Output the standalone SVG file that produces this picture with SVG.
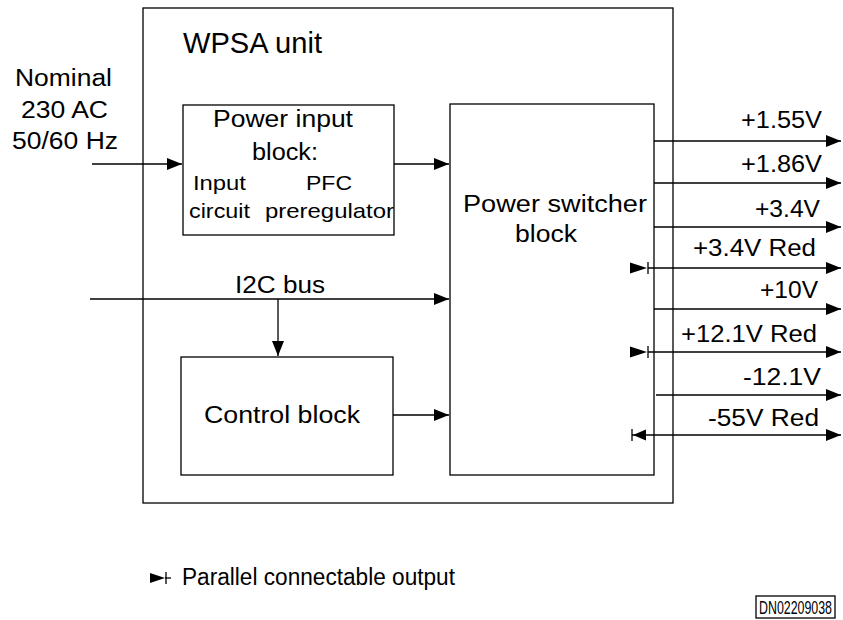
<svg xmlns="http://www.w3.org/2000/svg" width="843" height="620" viewBox="0 0 843 620">
<style>
text{font-family:"Liberation Sans",Arial,sans-serif;fill:#000}
.box{fill:#fff;stroke:#000;stroke-width:1.3}
.ln{fill:none;stroke:#000;stroke-width:1.3}
.t{font-size:23px}
.s{font-size:21px}
</style>
<defs>
<marker id="ah" markerUnits="userSpaceOnUse" markerWidth="15" markerHeight="12" refX="15" refY="6" orient="auto">
<path d="M0,0 L15,6 L0,12 z" fill="#000"/>
</marker>
</defs>
<rect width="843" height="620" fill="#fff"/>
<g id="wpsa-unit">
<rect class="box" x="143" y="8" width="530" height="495"/>
<text x="183" y="53" font-size="29" textLength="139" lengthAdjust="spacingAndGlyphs">WPSA unit</text>
</g>
<g id="nominal-input">
<text class="t" x="15" y="86" textLength="97" lengthAdjust="spacingAndGlyphs">Nominal</text>
<text class="t" x="21" y="118" textLength="87" lengthAdjust="spacingAndGlyphs">230 AC</text>
<text class="t" x="12" y="149" textLength="106" lengthAdjust="spacingAndGlyphs">50/60 Hz</text>
</g>
<g id="power-input-block">
<rect class="box" x="183" y="105" width="211" height="130"/>
<text class="t" x="213" y="127" textLength="140" lengthAdjust="spacingAndGlyphs">Power input</text>
<text class="t" x="252" y="160" textLength="66" lengthAdjust="spacingAndGlyphs">block:</text>
<text class="s" x="193" y="190" textLength="53" lengthAdjust="spacingAndGlyphs">Input</text>
<text class="s" x="306" y="190" textLength="46" lengthAdjust="spacingAndGlyphs">PFC</text>
<text class="s" x="189" y="218" textLength="61" lengthAdjust="spacingAndGlyphs">circuit</text>
<text class="s" x="265" y="218" textLength="129" lengthAdjust="spacingAndGlyphs">preregulator</text>
</g>
<g id="power-switcher-block">
<rect class="box" x="450" y="104" width="204" height="371"/>
<text class="t" x="463" y="212" textLength="184" lengthAdjust="spacingAndGlyphs">Power switcher</text>
<text class="t" x="515" y="242" textLength="62" lengthAdjust="spacingAndGlyphs">block</text>
</g>
<g id="control-block">
<rect class="box" x="181" y="357" width="212" height="118"/>
<text class="t" x="204" y="423" textLength="156" lengthAdjust="spacingAndGlyphs">Control block</text>
</g>
<g id="i2c-label">
<text class="t" x="235" y="293" textLength="90" lengthAdjust="spacingAndGlyphs">I2C bus</text>
</g>
<g id="connectors">
<line class="ln" x1="92" y1="164" x2="182" y2="164" marker-end="url(#ah)"/>
<line class="ln" x1="394" y1="164" x2="449" y2="164" marker-end="url(#ah)"/>
<line class="ln" x1="90" y1="299" x2="449" y2="299" marker-end="url(#ah)"/>
<line class="ln" x1="278" y1="299" x2="278" y2="356" marker-end="url(#ah)"/>
<line class="ln" x1="393" y1="415" x2="449" y2="415" marker-end="url(#ah)"/>
<line class="ln" x1="654" y1="141" x2="841" y2="141" marker-end="url(#ah)"/>
<line class="ln" x1="654" y1="183" x2="841" y2="183" marker-end="url(#ah)"/>
<line class="ln" x1="654" y1="227" x2="841" y2="227" marker-end="url(#ah)"/>
<line class="ln" x1="648" y1="268" x2="841" y2="268" marker-end="url(#ah)"/>
<line class="ln" x1="654" y1="309" x2="841" y2="309" marker-end="url(#ah)"/>
<line class="ln" x1="648" y1="352" x2="841" y2="352" marker-end="url(#ah)"/>
<line class="ln" x1="656" y1="395" x2="841" y2="395" marker-end="url(#ah)"/>
<line class="ln" x1="632" y1="435" x2="841" y2="435" marker-end="url(#ah)"/>
<path d="M630,262.5 L647,268 L630,273.5 z" fill="#000"/>
<line class="ln" x1="648" y1="262" x2="648" y2="274"/>
<path d="M630,346.5 L647,352 L630,357.5 z" fill="#000"/>
<line class="ln" x1="648" y1="346" x2="648" y2="358"/>
<path d="M633,435 L646,429.5 L646,440.5 z" fill="#000"/>
<line class="ln" x1="632" y1="429" x2="632" y2="441"/>
</g>
<g id="output-labels">
<text class="t" x="741" y="128" textLength="81" lengthAdjust="spacingAndGlyphs">+1.55V</text>
<text class="t" x="741" y="172" textLength="81" lengthAdjust="spacingAndGlyphs">+1.86V</text>
<text class="t" x="755" y="217" textLength="65" lengthAdjust="spacingAndGlyphs">+3.4V</text>
<text class="t" x="693" y="256" textLength="123" lengthAdjust="spacingAndGlyphs">+3.4V Red</text>
<text class="t" x="760" y="298" textLength="58" lengthAdjust="spacingAndGlyphs">+10V</text>
<text class="t" x="681" y="342" textLength="136" lengthAdjust="spacingAndGlyphs">+12.1V Red</text>
<text class="t" x="743" y="385" textLength="78" lengthAdjust="spacingAndGlyphs">-12.1V</text>
<text class="t" x="708" y="426" textLength="111" lengthAdjust="spacingAndGlyphs">-55V Red</text>
</g>
<g id="legend">
<path d="M150,573 L165,578 L150,583 z" fill="#000"/>
<line class="ln" x1="166" y1="572" x2="166" y2="584"/>
<line class="ln" x1="165" y1="578" x2="171" y2="578"/>
<text class="t" x="182" y="585" textLength="273" lengthAdjust="spacingAndGlyphs">Parallel connectable output</text>
</g>
<g id="doc-id">
<rect x="756" y="596" width="79" height="22" fill="#fff" stroke="#000" stroke-width="1.3"/>
<text x="759" y="614" font-size="19" textLength="73" lengthAdjust="spacingAndGlyphs">DN02209038</text>
</g>
</svg>
